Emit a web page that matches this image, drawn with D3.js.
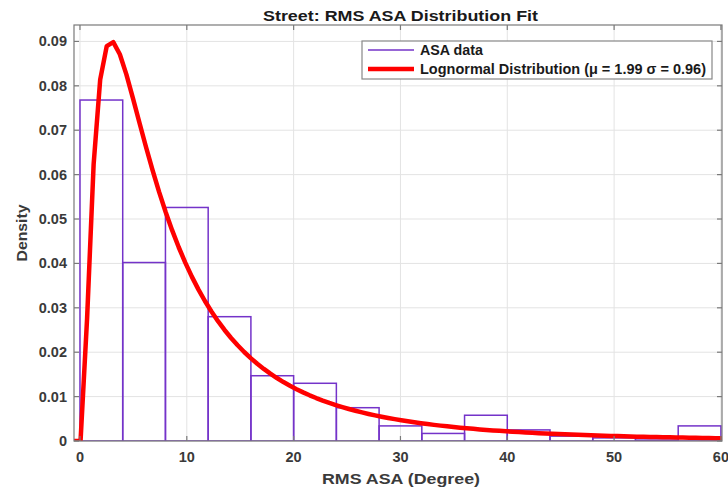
<!DOCTYPE html>
<html>
<head>
<meta charset="utf-8">
<script src="https://cdn.jsdelivr.net/npm/d3@7"></script>
<style>
  html, body { margin: 0; padding: 0; background: #fff; }
  svg { display: block; font-family: "Liberation Sans", Arial, sans-serif; }
</style>
</head>
<body>
<svg id="chart" width="728" height="490"></svg>
<script>
// Histogram bin edges (degrees) and density per bin
const binEdges = [0, 4, 8, 12, 16, 20, 24, 28, 32, 36, 40, 44, 48, 52, 56, 60];
const binDensity = [0.0768, 0.0402, 0.0526, 0.0280, 0.0147, 0.0130, 0.0075, 0.0034,
                    0.0017, 0.0058, 0.0025, 0.0011, 0.0007, 0.0002, 0.0034];

// Lognormal fit parameters
const mu = 1.99;
const sigma = 0.96;

const xTicks = [0, 10, 20, 30, 40, 50, 60];
const yTicks = [0, 0.01, 0.02, 0.03, 0.04, 0.05, 0.06, 0.07, 0.08, 0.09];

const titleText = "Street: RMS ASA Distribution Fit";
const xLabel = "RMS ASA (Degree)";
const yLabel = "Density";
const legendLabels = ["ASA data", "Lognormal Distribution (\u03bc = 1.99 \u03c3 = 0.96)"];

const purple = "#7433c9";
const red = "#ff0000";

const svg = d3.select("#chart");
const plot = { left: 74, right: 722, top: 25, bottom: 441 };

const xDomain = [-0.56, 60.1];
const x = d3.scaleLinear().domain(xDomain).range([plot.left, plot.right]);
const y = d3.scaleLinear().domain([0, 0.0937]).range([plot.bottom, plot.top]);

// Grid
const grid = svg.append("g");
grid.selectAll("line.gx").data(xTicks).join("line")
  .attr("x1", d => x(d)).attr("x2", d => x(d))
  .attr("y1", plot.top).attr("y2", plot.bottom)
  .attr("stroke", "#e3e3e3").attr("stroke-width", 1);
grid.selectAll("line.gy").data(yTicks).join("line")
  .attr("x1", plot.left).attr("x2", plot.right)
  .attr("y1", d => y(d)).attr("y2", d => y(d))
  .attr("stroke", "#e3e3e3").attr("stroke-width", 1);

svg.append("clipPath").attr("id", "clip")
  .append("rect")
  .attr("x", plot.left).attr("y", plot.top)
  .attr("width", plot.right - plot.left).attr("height", plot.bottom - plot.top);

const area = svg.append("g").attr("clip-path", "url(#clip)");

// Histogram bars (outline only)
area.selectAll("rect.bar").data(binDensity).join("rect")
  .attr("x", (d, i) => x(binEdges[i]))
  .attr("y", d => y(d))
  .attr("width", (d, i) => x(binEdges[i + 1]) - x(binEdges[i]))
  .attr("height", d => y(0) - y(d))
  .attr("fill", "none")
  .attr("stroke", purple)
  .attr("stroke-width", 1.5);

// Lognormal PDF sampled at 100 evenly spaced points across the x range
const pdf = v => v <= 0 ? 0 :
  Math.exp(-Math.pow(Math.log(v) - mu, 2) / (2 * sigma * sigma)) / (v * sigma * Math.sqrt(2 * Math.PI));
const curveX = d3.range(100).map(i => xDomain[0] + i * (xDomain[1] - xDomain[0]) / 99);
const curve = curveX.map(v => [v, pdf(v)]);

area.append("path")
  .datum(curve)
  .attr("fill", "none")
  .attr("stroke", red)
  .attr("stroke-width", 4.5)
  .attr("stroke-linejoin", "round")
  .attr("d", d3.line().x(d => x(d[0])).y(d => y(d[1])));

// Axes box and ticks
const axisColor = "#7a7a7a";
svg.append("rect")
  .attr("x", plot.left).attr("y", plot.top)
  .attr("width", plot.right - plot.left).attr("height", plot.bottom - plot.top)
  .attr("fill", "none").attr("stroke", axisColor).attr("stroke-width", 1.2);

const tickLen = 5;
const ticks = svg.append("g").attr("stroke", axisColor).attr("stroke-width", 1.2);
xTicks.forEach(t => {
  ticks.append("line").attr("x1", x(t)).attr("x2", x(t)).attr("y1", plot.bottom).attr("y2", plot.bottom - tickLen);
  ticks.append("line").attr("x1", x(t)).attr("x2", x(t)).attr("y1", plot.top).attr("y2", plot.top + tickLen);
});
yTicks.forEach(t => {
  ticks.append("line").attr("x1", plot.left).attr("x2", plot.left + tickLen).attr("y1", y(t)).attr("y2", y(t));
  ticks.append("line").attr("x1", plot.right).attr("x2", plot.right - tickLen).attr("y1", y(t)).attr("y2", y(t));
});

// Tick labels
const tickColor = "#3a3a3a";
svg.append("g").selectAll("text").data(xTicks).join("text")
  .attr("x", d => x(d)).attr("y", plot.bottom + 21)
  .attr("text-anchor", "middle")
  .attr("font-size", 14.5).attr("font-weight", "bold").attr("fill", tickColor)
  .text(d => d);
svg.append("g").selectAll("text").data(yTicks).join("text")
  .attr("x", plot.left - 7).attr("y", d => y(d) + 5)
  .attr("text-anchor", "end")
  .attr("font-size", 14.5).attr("font-weight", "bold").attr("fill", tickColor)
  .text(d => d === 0 ? "0" : d.toFixed(2));

// Axis titles (text set to a fixed rendered length)
svg.append("text")
  .attr("x", 401).attr("y", 484)
  .attr("text-anchor", "middle")
  .attr("font-size", 15.5).attr("font-weight", "bold").attr("fill", tickColor)
  .attr("textLength", 158).attr("lengthAdjust", "spacingAndGlyphs")
  .text(xLabel);
svg.append("text")
  .attr("transform", `translate(27, ${(plot.top + plot.bottom) / 2}) rotate(-90)`)
  .attr("text-anchor", "middle")
  .attr("font-size", 15.5).attr("font-weight", "bold").attr("fill", tickColor)
  .attr("textLength", 57).attr("lengthAdjust", "spacingAndGlyphs")
  .text(yLabel);

// Title
svg.append("text")
  .attr("x", 400.5).attr("y", 20.5)
  .attr("text-anchor", "middle")
  .attr("font-size", 15.5).attr("font-weight", "bold").attr("fill", "#1a1a1a")
  .attr("textLength", 275).attr("lengthAdjust", "spacingAndGlyphs")
  .text(titleText);

// Legend
const lg = svg.append("g");
lg.append("rect")
  .attr("x", 362).attr("y", 41).attr("width", 350).attr("height", 38)
  .attr("fill", "#fff").attr("stroke", "#888").attr("stroke-width", 1.2);
const legendItems = [
  { label: legendLabels[0], color: purple, width: 1.5, yy: 50, len: 63 },
  { label: legendLabels[1], color: red, width: 4.5, yy: 69, len: 286 }
];
legendItems.forEach(it => {
  lg.append("line")
    .attr("x1", 368).attr("x2", 414).attr("y1", it.yy).attr("y2", it.yy)
    .attr("stroke", it.color).attr("stroke-width", it.width);
  lg.append("text")
    .attr("x", 420).attr("y", it.yy + 5)
    .attr("font-size", 14).attr("font-weight", "bold").attr("fill", "#1a1a1a")
    .attr("textLength", it.len).attr("lengthAdjust", "spacingAndGlyphs")
    .text(it.label);
});
</script>
</body>
</html>
